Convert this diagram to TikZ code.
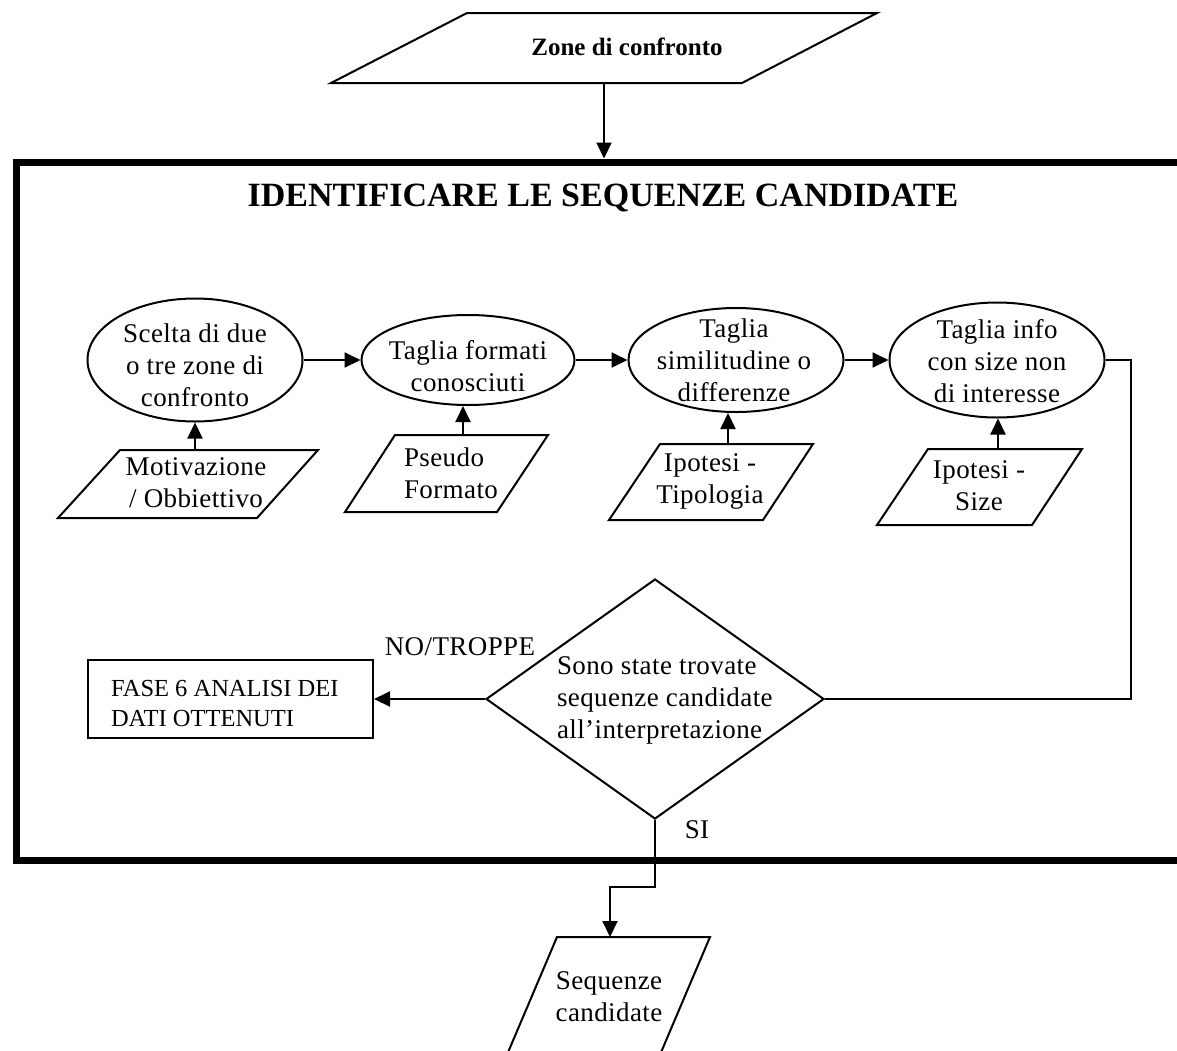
\documentclass[tikz,border=0pt]{standalone}
\usepackage{fontspec}
\setmainfont{Liberation Serif}
\newfontfamily\spacedserif[LetterSpace=1.5]{Liberation Serif}
\usetikzlibrary{shapes.geometric,arrows.meta}
\begin{document}
\begin{tikzpicture}[x=1pt,y=-1pt,
  line width=2pt,
  arr/.style={-{Triangle[length=16pt,width=15pt]}},
  ellbox/.style={draw,ellipse,inner sep=0pt},
  body/.style={font=\spacedserif\fontsize{27}{32}\selectfont,align=center,inner sep=0pt},
  lab/.style={font=\spacedserif\fontsize{27}{32}\selectfont,inner sep=0pt},
  caps/.style={font=\fontsize{24.5}{30}\selectfont,align=left,inner sep=0pt},
  boldtxt/.style={font=\bfseries\fontsize{25}{30}\selectfont,inner sep=0pt}
]
\clip (0,0) rectangle (1177,1050);
\fill[white] (0,0) rectangle (1177,1050);

% input data: zones to compare
\draw (467,13) -- (877,13) -- (742,83) -- (331,83) -- cycle;
\node[boldtxt] (zone) at (627,47) {Zone di confronto};
\coordinate (zonebot) at (604,83);

% phase frame
\node[draw,line width=7pt,minimum width=1184pt,minimum height=698pt,inner sep=0pt] (frame) at (608,511) {};
\draw[arr] (zonebot) -- (zonebot |- frame.north);
\node[font=\bfseries\fontsize{34}{40}\selectfont,inner sep=0pt] (title) at (603,198) {IDENTIFICARE LE SEQUENZE CANDIDATE};

% processing steps
\node[ellbox,minimum width=215pt,minimum height=123pt] (e1) at (195,360) {};
\node[body] (e1t) at (195,365) {Scelta di due\\o tre zone di\\confronto};
\node[ellbox,minimum width=213pt,minimum height=90pt] (e2) at (468,360) {};
\node[body] (e2t) at (468,366) {Taglia formati\\conosciuti};
\node[ellbox,minimum width=215pt,minimum height=104pt] (e3) at (736,360) {};
\node[body] (e3t) at (734,360) {Taglia\\similitudine o\\differenze};
\node[ellbox,minimum width=215pt,minimum height=115pt] (e4) at (997,360) {};
\node[body] (e4t) at (997,361) {Taglia info\\con size non\\di interesse};

\draw[arr] (e1.east) -- (e2.west);
\draw[arr] (e2.east) -- (e3.west);
\draw[arr] (e3.east) -- (e4.west);

% inputs to the steps
\draw (120,450) -- (318,450) -- (257,518) -- (58,518) -- cycle;
\node[body] (p1) at (196,483) {Motivazione\\/ Obbiettivo};
\coordinate (p1top) at (195,450);
\draw[arr] (p1top) -- (p1top |- e1.south);

\draw (395,435) -- (548,435) -- (497,512) -- (345,512) -- cycle;
\node[body,align=left,anchor=west] (p2) at (403,473) {Pseudo\\Formato};
\coordinate (p2top) at (463,435);
\draw[arr] (p2top) -- (p2top |- e2.south);

\draw (660,444) -- (813,444) -- (763,520) -- (609,520) -- cycle;
\node[body] (p3) at (710,481) {Ipotesi -\\Tipologia};
\coordinate (p3top) at (728,444);
\draw[arr] (p3top) -- (p3top |- e3.south);

\draw (928,449) -- (1082,449) -- (1032,525) -- (877,525) -- cycle;
\node[body] (p4) at (979,486) {Ipotesi -\\Size};
\coordinate (p4top) at (998,449);
\draw[arr] (p4top) -- (p4top |- e4.south);

% decision
\node[draw,diamond,minimum width=338pt,minimum height=240pt,inner sep=0pt] (dec) at (655,699) {};
\node[body,align=left,anchor=west] (dect) at (556,700) {Sono state trovate\\sequenze candidate\\all’interpretazione};
\draw (e4.east) -- ++(25,0) |- (dec.east);

% negative branch
\node[draw,minimum width=285pt,minimum height=78pt,inner sep=0pt] (fase) at (230.5,699) {};
\node[caps,anchor=west] (faset) at (110,703) {FASE 6 ANALISI DEI\\DATI OTTENUTI};
\draw[arr] (dec.west) -- (fase.east);
\node[lab] (no) at (460,647) {NO/TROPPE};

% positive branch
\node[lab] (si) at (697,830) {SI};
\coordinate (seqtop) at (610,937);
\draw[arr] (dec.south) -- ++(0,67) -| (seqtop);
\draw (557,937) -- (710,937) -- (653.5,1070) -- (500.5,1070) -- cycle;
\node[body] (seq) at (609,997) {Sequenze\\candidate};
\end{tikzpicture}
\end{document}
